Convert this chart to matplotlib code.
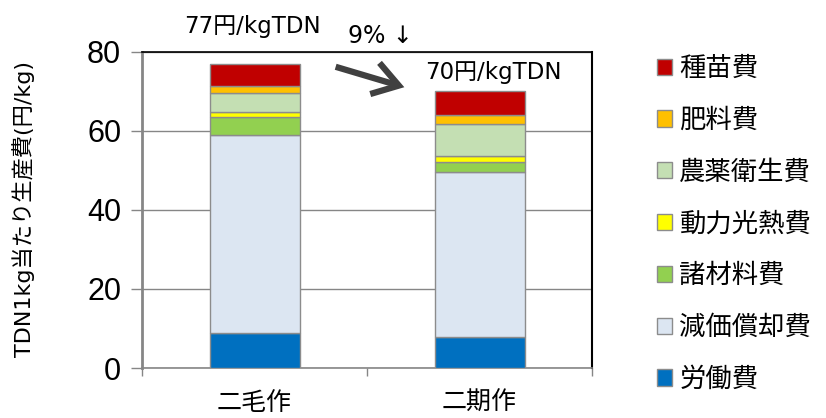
import matplotlib
matplotlib.use("Agg")
import matplotlib.pyplot as plt
from matplotlib.patches import Patch, FancyArrowPatch
import matplotlib.transforms as mtransforms
import numpy as np

plt.rcParams['font.family'] = ['Liberation Sans', 'Noto Sans CJK JP', 'DejaVu Sans']

categories = ["二毛作", "二期作"]
# cost items, stacked from bottom to top
items = ["労働費", "減価償却費", "諸材料費", "動力光熱費", "農薬衛生費", "肥料費", "種苗費"]
labour = [8.9, 7.9]
depreciation = [50.0, 41.6]
materials = [4.5, 2.7]
power_fuel = [1.4, 1.4]
pesticide = [4.8, 8.2]
fertilizer = [1.8, 2.2]
seed = [5.6, 6.0]
series = [labour, depreciation, materials, power_fuel, pesticide, fertilizer, seed]
colors = ["#0070C0", "#DCE6F2", "#92D050", "#FFFF00", "#C4DFB3", "#FFC000", "#C00000"]

totals_text = ["77円/kgTDN", "70円/kgTDN"]
change_text = "9% ↓"
ylabel = "TDN1kg当たり生産費(円/kg)"

mixed = ['DejaVu Sans', 'Noto Sans CJK JP']
cjk = ['Noto Sans CJK JP']

W, H = 826, 418
fig = plt.figure(figsize=(W / 100, H / 100), dpi=100)
ax = fig.add_axes([142 / W, 1 - 368 / H, 450 / W, (368 - 51.7) / H])

x = np.arange(len(categories))
bottom = np.zeros(len(categories))
for vals, col, name in zip(series, colors, items):
    ax.bar(x, vals, width=0.4, bottom=bottom, color=col, edgecolor="#8C8C8C",
           linewidth=1.0, label=name, zorder=3)
    bottom += np.array(vals)

ax.set_xlim(-0.5, 1.5)
ax.set_ylim(0, 80)
ax.set_yticks([0, 20, 40, 60, 80])
ax.yaxis.grid(True, color="#868686", linewidth=1.0, zorder=0)
ax.tick_params(axis="y", labelsize=22, length=8, width=1, color="#868686", pad=7)
for t in ax.get_yticklabels():
    t.set_fontfamily(['Liberation Sans'])

# category labels centred on bars, ticks at category boundaries
ax.set_xticks([-0.5, 0.5, 1.5])
ax.set_xticklabels([])
ax.tick_params(axis="x", length=6, width=1, color="#868686")
cat_trans = mtransforms.blended_transform_factory(ax.transData, fig.transFigure)
for xi, c in zip(x, categories):
    ax.text(xi, 1 - 410 / H, c, transform=cat_trans, ha="center", va="baseline",
            fontsize=18, family=cjk)

ax.spines["left"].set_color("#868686")
ax.spines["left"].set_linewidth(2)
ax.spines["bottom"].set_color("#868686")
ax.spines["bottom"].set_linewidth(1.2)
ax.spines["top"].set_color("#000000")
ax.spines["top"].set_linewidth(1.2)
ax.spines["right"].set_color("#000000")
ax.spines["right"].set_linewidth(1.5)

fig.text(24 / W, 1 - 209 / H, ylabel, rotation=90, ha="center", va="center",
         fontsize=16, family=mixed)

# totals and change annotation
fig.text(252 / W, 1 - 27 / H, totals_text[0], ha="center", va="center",
         fontsize=16.5, family=mixed)
fig.text(493 / W, 1 - 73 / H, totals_text[1], ha="center", va="center",
         fontsize=16.5, family=mixed)
fig.text(380 / W, 1 - 36 / H, change_text, ha="center", va="center",
         fontsize=17, family=['DejaVu Sans'])
fig.add_artist(FancyArrowPatch(
    (333 / W, 1 - 66 / H), (407 / W, 1 - 88 / H), transform=fig.transFigure,
    arrowstyle="->,head_length=1.0,head_width=0.65", mutation_scale=18,
    color="#404040", linewidth=4.5, capstyle="butt", joinstyle="miter"))

handles = [Patch(facecolor=c, edgecolor="#8C8C8C", linewidth=1.0) for c in colors][::-1]
leg = fig.legend(handles, items[::-1], loc="upper left", bbox_to_anchor=(657 / W, 1 - 55 / H),
                 frameon=False, prop={'family': cjk, 'size': 19},
                 handlelength=0.57, handleheight=0.57, handletextpad=0.28,
                 labelspacing=0.94, borderaxespad=0, borderpad=0)

fig.savefig("out.png", dpi=100)
